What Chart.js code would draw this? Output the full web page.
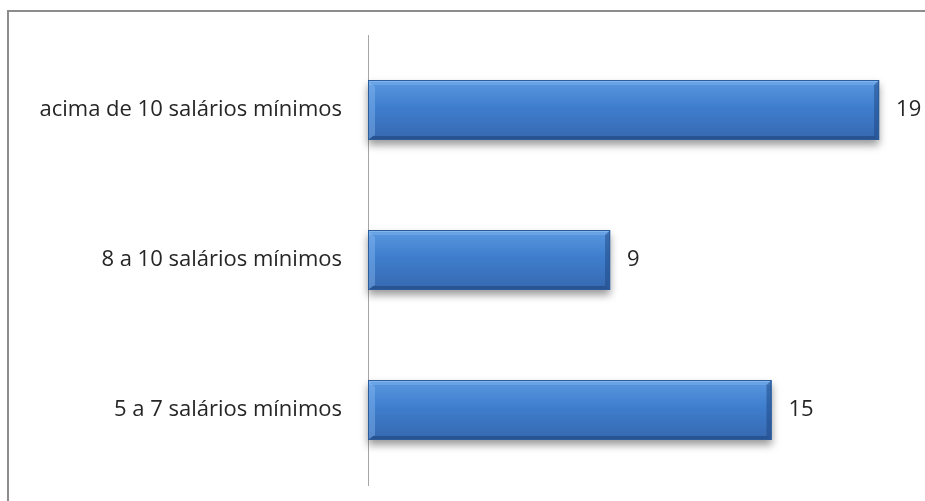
<!DOCTYPE html>
<html>
<head>
<meta charset="utf-8">
<script src="https://cdn.jsdelivr.net/npm/chart.js@4/dist/chart.umd.min.js"></script>
<style>
  html, body { margin: 0; padding: 0; background: #fff; }
  #wrap { position: relative; width: 925px; height: 501px; overflow: hidden; }
  #frame {
    position: absolute; left: 7px; top: 10px; width: 940px; height: 520px;
    border-top: 2px solid #8c8c8c; border-left: 2px solid #8c8c8c;
  }
  #myChart { position: absolute; left: 0; top: 0; }
</style>
</head>
<body>
<div id="wrap">
  <div id="frame"></div>
  <canvas id="myChart" width="925" height="501"></canvas>
</div>
<script>
// faixas salariais e quantidade de respostas
const categories = ['acima de 10 salários mínimos', '8 a 10 salários mínimos', '5 a 7 salários mínimos'];
const values = [19, 9, 15];

const FONT = '"Open Sans", sans-serif';

// sombra, degradê e bisel das barras, desenhados sobre os elementos do Chart.js
const bevelBars = {
  id: 'bevelBars',
  beforeDatasetsDraw(chart) {
    const ctx = chart.ctx;
    const meta = chart.getDatasetMeta(0);
    ctx.save();
    meta.data.forEach(el => {
      const top = el.y - el.height / 2;
      ctx.shadowColor = 'rgba(0,0,0,0.4)';
      ctx.shadowBlur = 8;
      ctx.shadowOffsetY = 5;
      ctx.fillStyle = '#3a74bd';
      ctx.fillRect(el.base, top, el.x - el.base, el.height);
    });
    ctx.restore();
  },
  afterDatasetsDraw(chart) {
    const ctx = chart.ctx;
    const meta = chart.getDatasetMeta(0);
    ctx.save();
    meta.data.forEach(el => {
      const l = el.base, r = el.x, t = el.y - el.height / 2, b = el.y + el.height / 2;
      const g = ctx.createLinearGradient(0, t, 0, b);
      g.addColorStop(0, '#5a98e0');
      g.addColorStop(0.45, '#3f7ecd');
      g.addColorStop(1, '#3668b0');
      ctx.fillStyle = g;
      ctx.fillRect(l, t, r - l, b - t);

      // faixa clara no topo
      ctx.fillStyle = '#80b7f0';
      ctx.fillRect(l, t, r - l, 2);
      ctx.fillStyle = 'rgba(120,175,235,0.55)';
      ctx.fillRect(l, t + 2, r - l, 3);

      // canto esquerdo claro
      ctx.fillStyle = 'rgba(140,190,245,0.4)';
      ctx.beginPath();
      ctx.moveTo(l, t);
      ctx.lineTo(l + 7, t + 7);
      ctx.lineTo(l + 7, b - 5);
      ctx.lineTo(l, b);
      ctx.closePath();
      ctx.fill();

      // lado direito e base escuros
      ctx.fillStyle = 'rgba(30,70,130,0.5)';
      ctx.beginPath();
      ctx.moveTo(r, t);
      ctx.lineTo(r - 5, t + 5);
      ctx.lineTo(r - 5, b - 4);
      ctx.lineTo(r, b);
      ctx.closePath();
      ctx.fill();
      ctx.fillStyle = 'rgba(30,65,120,0.55)';
      ctx.beginPath();
      ctx.moveTo(l, b);
      ctx.lineTo(l + 5, b - 4);
      ctx.lineTo(r - 5, b - 4);
      ctx.lineTo(r, b);
      ctx.closePath();
      ctx.fill();

      ctx.strokeStyle = '#2d5c9a';
      ctx.lineWidth = 1;
      ctx.strokeRect(l + 0.5, t + 0.5, r - l - 1, b - t - 1);
    });

    // rótulos de valor
    ctx.fillStyle = '#262626';
    ctx.font = '22px ' + FONT;
    ctx.textBaseline = 'middle';
    ctx.textAlign = 'left';
    meta.data.forEach((el, i) => {
      ctx.fillText(String(values[i]), el.x + 17, el.y);
    });
    ctx.restore();
  }
};

new Chart(document.getElementById('myChart'), {
  type: 'bar',
  data: {
    labels: categories,
    datasets: [{
      data: values,
      backgroundColor: 'rgba(0,0,0,0)',
      borderWidth: 0,
      barThickness: 60,
    }],
  },
  options: {
    indexAxis: 'y',
    responsive: false,
    animation: false,
    layout: { padding: { left: 0, right: 19, top: 35, bottom: 16 } },
    plugins: { legend: { display: false }, tooltip: { enabled: false } },
    scales: {
      x: { min: 0, max: 20, display: false },
      y: {
        grid: { display: false, drawTicks: false },
        border: { display: true, color: '#a6a6a6', width: 1 },
        ticks: { color: '#262626', font: { family: FONT, size: 22 }, padding: 26 },
        afterFit(scale) {
          scale.width = 368;
          scale.paddingTop = 0;
          scale.paddingBottom = 0;
        },
      },
    },
  },
  plugins: [bevelBars],
});
</script>
</body>
</html>
